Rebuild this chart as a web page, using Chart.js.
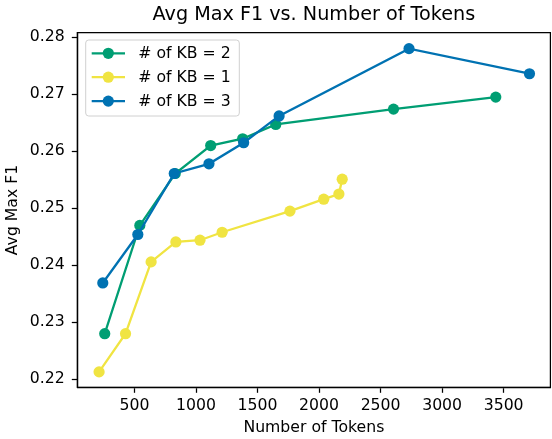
<!DOCTYPE html>
<html>
<head>
<meta charset="utf-8">
<script src="https://cdn.jsdelivr.net/npm/chart.js@4/dist/chart.umd.min.js"></script>
<style>
  html, body { margin: 0; padding: 0; background: #fff; overflow: hidden; width: 552px; height: 439px; }
  #wrap { width: 556px; height: 439px; }
</style>
</head>
<body>
<div id="wrap"><canvas id="chart" width="556" height="439"></canvas></div>
<script>
// Data
const kb2Tokens = [258, 543, 831, 1119, 1379, 1648, 2605, 3436];
const kb2F1 = [0.2280, 0.2470, 0.2561, 0.2610, 0.2622, 0.2647, 0.2674, 0.2695];

const kb1Tokens = [212, 427, 635, 836, 1032, 1212, 1763, 2038, 2161, 2188];
const kb1F1 = [0.2213, 0.2280, 0.2406, 0.2441, 0.2444, 0.2458, 0.2495, 0.2516, 0.2525, 0.2551];

const kb3Tokens = [242, 527, 823, 1105, 1387, 1675, 2731, 3710];
const kb3F1 = [0.2369, 0.2454, 0.2561, 0.2578, 0.2615, 0.2662, 0.2780, 0.2736];

const xTicks = [500, 1000, 1500, 2000, 2500, 3000, 3500];
const yTicks = [0.22, 0.23, 0.24, 0.25, 0.26, 0.27, 0.28];

const FONT = '"DejaVu Sans", sans-serif';
const FS = 15.7;

function toPoints(xs, ys) {
  return xs.map((x, i) => ({ x: x, y: ys[i] }));
}

function series(label, xs, ys, color, order) {
  return {
    label: label,
    data: toPoints(xs, ys),
    borderColor: color,
    backgroundColor: color,
    borderWidth: 2.3,
    pointRadius: 5.6,
    pointHoverRadius: 5.6,
    pointBorderWidth: 0,
    tension: 0,
    order: order
  };
}

// spines on top / right, plus a matplotlib-like legend box
const framePlugin = {
  id: 'frame',
  afterDraw(chart) {
    const { ctx, chartArea: a } = chart;
    ctx.save();
    ctx.strokeStyle = '#000';
    ctx.lineWidth = 1.25;
    ctx.strokeRect(a.left, a.top, a.right - a.left, a.bottom - a.top);

    // legend
    const bx = 85.7, by = 40, bw = 153.6, bh = 76;
    ctx.beginPath();
    ctx.roundRect(bx, by, bw, bh, 3);
    ctx.fillStyle = 'rgba(255,255,255,0.8)';
    ctx.fill();
    ctx.strokeStyle = '#d0d0d0';
    ctx.lineWidth = 1;
    ctx.stroke();

    ctx.font = FS + 'px ' + FONT;
    ctx.textBaseline = 'middle';
    ctx.textAlign = 'left';
    chart.data.datasets.forEach((ds, i) => {
      const y = 53.3 + i * 23.9;
      ctx.strokeStyle = ds.borderColor;
      ctx.lineWidth = 2.3;
      ctx.beginPath();
      ctx.moveTo(91.7, y);
      ctx.lineTo(125, y);
      ctx.stroke();
      ctx.fillStyle = ds.backgroundColor;
      ctx.beginPath();
      ctx.arc(108.3, y, 5.6, 0, Math.PI * 2);
      ctx.fill();
      ctx.fillStyle = '#000';
      ctx.fillText(ds.label, 138.3, y + 1);
    });
    ctx.restore();
  }
};

new Chart(document.getElementById('chart'), {
  type: 'line',
  data: {
    datasets: [
      series('# of KB = 2', kb2Tokens, kb2F1, '#009E73', 3),
      series('# of KB = 1', kb1Tokens, kb1F1, '#F0E442', 2),
      series('# of KB = 3', kb3Tokens, kb3F1, '#0072B2', 1)
    ]
  },
  options: {
    responsive: false,
    devicePixelRatio: 1,
    animation: false,
    layout: { padding: { left: 0, right: 2, top: 0, bottom: 0 } },
    plugins: {
      legend: { display: false },
      tooltip: { enabled: false },
      title: {
        display: true,
        fullSize: false,
        text: 'Avg Max F1 vs. Number of Tokens',
        color: '#000',
        font: { family: FONT, size: 19.2, weight: 'normal' },
        padding: { top: 3.6, bottom: 6 }
      }
    },
    scales: {
      x: {
        type: 'linear',
        min: 35,
        max: 3880,
        afterFit(scale) { scale.height = 51.7; },
        afterBuildTicks(scale) { scale.ticks = xTicks.map(v => ({ value: v })); },
        grid: { drawOnChartArea: false, drawTicks: true, tickLength: 5.5, tickWidth: 1.25, tickColor: '#000' },
        border: { display: true, color: '#000', width: 1.25 },
        ticks: {
          color: '#000',
          font: { family: FONT, size: FS },
          padding: 4,
          maxRotation: 0,
          autoSkip: false,
          callback: v => String(v)
        },
        title: {
          display: true,
          text: 'Number of Tokens',
          color: '#000',
          font: { family: FONT, size: FS },
          padding: { top: 0, bottom: 1.6 }
        }
      },
      y: {
        type: 'linear',
        min: 0.2186,
        max: 0.28081,
        afterFit(scale) { scale.width = 77.3; },
        afterBuildTicks(scale) { scale.ticks = yTicks.map(v => ({ value: v })); },
        grid: { drawOnChartArea: false, drawTicks: true, tickLength: 5.5, tickWidth: 1.25, tickColor: '#000' },
        border: { display: true, color: '#000', width: 1.25 },
        ticks: {
          color: '#000',
          font: { family: FONT, size: FS },
          padding: 7,
          autoSkip: false,
          callback: v => v.toFixed(2)
        },
        title: {
          display: true,
          text: 'Avg Max F1',
          color: '#000',
          font: { family: FONT, size: FS },
          padding: { top: 4, bottom: 0 }
        }
      }
    }
  },
  plugins: [framePlugin]
});
</script>
</body>
</html>
